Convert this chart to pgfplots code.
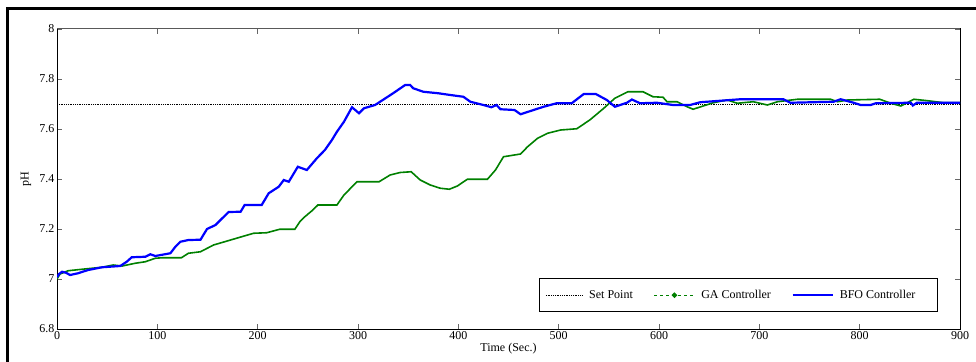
\documentclass[border=0pt]{standalone}
\usepackage{pgfplots}
\pgfplotsset{compat=1.18}
\usepackage{fontspec}
\setmainfont{Liberation Serif}
\definecolor{gagreen}{RGB}{0,128,0}
\definecolor{bfoblue}{RGB}{0,0,255}
\begin{document}
\begin{tikzpicture}[x=1bp,y=1bp]
\useasboundingbox (0,0) rectangle (976,361);
\begin{scope}
\clip (0,0) rectangle (976,361);
\draw[line width=3bp] (7.5,-5) -- (7.5,352) -- (990,352);
\end{scope}
\begin{axis}[
  at={(57bp,32bp)}, anchor=south west,
  scale only axis, width=903bp, height=300bp,
  xmin=0, xmax=900, ymin=6.8, ymax=8,
  xtick={0,100,...,900},
  ytick={6.8,7,7.2,7.4,7.6,7.8,8},
  font=\fontsize{12bp}{14bp}\selectfont,
  /pgf/number format/assume math mode=true,
  tick style={gray!80!black, line width=0.8bp},
  major tick length=5bp,
  tick align=inside,
  axis line style={black, line width=1bp},
  xticklabel style={yshift=1bp},
  yticklabel style={xshift=1bp},
  xlabel={Time (Sec.)},
  ylabel={pH},
  xlabel style={at={(axis description cs:0.5,-0.067)}, anchor=center},
  ylabel style={at={(axis description cs:-0.0343,0.5)}, anchor=center},
  legend columns=3,
  legend style={at={(axis cs:480.4,6.868)}, anchor=south west,
    draw=black, line width=0.8bp, fill=white,
    inner xsep=6bp, inner ysep=9.5bp,
    font=\fontsize{12bp}{14bp}\selectfont,
    /tikz/every even column/.append style={column sep=19bp}},
  legend cell align=left,
]
\addplot[black, densely dotted, line width=0.8bp,
  legend image code/.code={\draw[black, densely dotted, line width=0.8bp] (0bp,0bp) -- (36bp,0bp); \path (41bp,0bp);}]
  coordinates {(0,7.7) (900,7.7)};
\addlegendentry{Set Point}
\addplot[gagreen, line width=1.6bp,
  legend image code/.code={\draw[color=gagreen, draw=gagreen, dashed, line width=1.2bp] (0bp,0bp) -- (40bp,0bp); \fill[gagreen] (20bp,0bp) circle (1.8bp); \path (44bp,0bp);}]
  coordinates {
(0,7.000) (3,7.02) (11,7.033) (25,7.039) (45,7.047) (56,7.056) (65,7.052) (78,7.063)
(88,7.069) (98,7.083) (105,7.085) (124,7.085) (131,7.103) (143,7.109) (156,7.136)
(173,7.156) (184,7.169) (196,7.183) (209,7.185) (222,7.199) (237,7.199) (242,7.229)
(247,7.249) (255,7.276) (260,7.296) (279,7.296) (286,7.336) (299,7.389) (321,7.389)
(332,7.416) (342,7.426) (353,7.429) (362,7.396) (372,7.376) (382,7.363) (391,7.359)
(399,7.372) (409,7.399) (429,7.399) (437,7.436) (445,7.489) (462,7.500) (469,7.529)
(479,7.563) (489,7.583) (502,7.596) (518,7.601) (531,7.636) (545,7.683) (556,7.723)
(569,7.749) (584,7.749) (594,7.729) (604,7.727) (608,7.709) (618,7.709) (628,7.689)
(634,7.679) (644,7.692) (654,7.705) (668,7.716) (678,7.703) (694,7.709) (708,7.696)
(718,7.709) (738,7.719) (771,7.719) (778,7.709) (788,7.716) (820,7.719) (831,7.703)
(841,7.692) (854,7.719) (868,7.713) (884,7.705) (900,7.705)
  };
\addlegendentry{GA Controller}
\addplot[bfoblue, line width=2.2bp,
  legend image code/.code={\draw[color=bfoblue, draw=bfoblue, line width=1.5bp] (0bp,0bp) -- (40bp,0bp); \path (44bp,0bp);}]
  coordinates {
(0,7.007) (2,7.02) (5,7.029) (9,7.025) (13,7.016) (21,7.023) (31,7.036) (45,7.047)
(63,7.052) (69.5,7.069) (74.5,7.087) (88,7.089) (93,7.099) (98,7.092) (113,7.103)
(118,7.129) (123,7.149) (131,7.156) (143,7.157) (149.5,7.200) (158,7.216) (163,7.236)
(171,7.268) (183,7.269) (187,7.296) (204,7.296) (211,7.343) (221,7.369) (226,7.396)
(231,7.389) (240,7.449) (249,7.436) (259,7.483) (267,7.516) (274,7.556) (279,7.589)
(286,7.629) (294,7.687) (301,7.663) (306,7.683) (317,7.696) (322,7.709) (335,7.743)
(347,7.776) (352,7.776) (355,7.763) (365,7.749) (380,7.743) (392,7.736) (405,7.729)
(412,7.709) (425,7.696) (433,7.687) (438,7.696) (442,7.679) (456,7.676) (462,7.659)
(475,7.676) (485,7.689) (498,7.703) (513,7.703) (525,7.740) (537,7.740) (548,7.716)
(556,7.689) (568,7.705) (573,7.718) (581,7.703) (598,7.705) (614,7.696) (631,7.696)
(641,7.707) (681,7.719) (724,7.719) (731,7.705) (774,7.709) (781,7.719) (794,7.705)
(801,7.696) (811,7.696) (816,7.703) (851,7.705) (853,7.694) (857,7.705) (900,7.705)
  };
\addlegendentry{BFO Controller\kern14bp\null}
\draw[gray!70!black, line width=1bp] (rel axis cs:0,1) -- (rel axis cs:1,1);
\end{axis}
\end{tikzpicture}
\end{document}
